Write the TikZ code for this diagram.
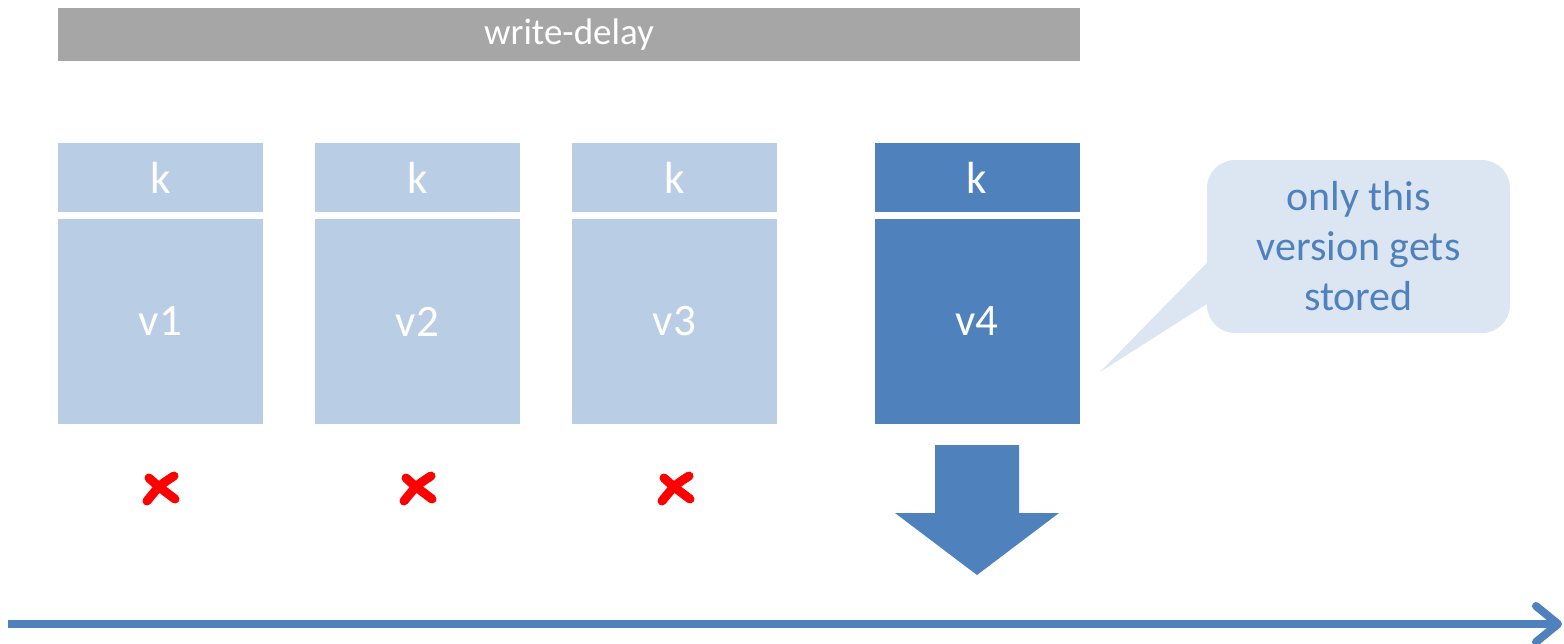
\documentclass[tikz,border=0pt]{standalone}
\usepackage{fontspec}
\setmainfont{Carlito}
\definecolor{barGray}{HTML}{A6A6A6}
\definecolor{paleBlue}{HTML}{B9CDE5}
\definecolor{deepBlue}{HTML}{4F81BD}
\definecolor{noteBlue}{HTML}{DCE6F2}
\definecolor{crossRed}{HTML}{FF0000}
\begin{document}
\begin{tikzpicture}[x=1pt,y=-1pt,
  keybox/.style={fill=#1,draw=none,inner sep=0pt,minimum width=205pt,minimum height=69pt,
    text=white,font=\fontsize{45}{47}\selectfont},
  valbox/.style={fill=#1,draw=none,inner sep=0pt,minimum width=205pt,minimum height=205pt,
    text=white,font=\fontsize{45}{47}\selectfont},
  cross/.style={crossRed,line width=9pt,line cap=round}]
\useasboundingbox (0,0) rectangle (1564,643);

% write-delay bar
\node[fill=barGray,inner sep=0pt,minimum width=1022pt,minimum height=53pt,text=white,
  font=\fontsize{37}{39}\selectfont] (delay) at (569,34.5) {write-delay};

% versions of key k
\foreach \i/\x/\c in {1/160.5/paleBlue,2/417.5/paleBlue,3/674.5/paleBlue,4/977/deepBlue}{
  \node[keybox=\c] (k\i) at (\x,177.5) {k};
  \node[valbox=\c] (v\i) at (\x,321.5) {v\i};
}

% discarded versions
\foreach \i/\x in {1/161,2/418,3/676}{
  \coordinate (x\i) at (\x,488);
  \draw[cross] ([shift={(-12,-10)}]x\i) .. controls ([shift={(-2,-1)}]x\i) .. ([shift={(14,11)}]x\i);
  \draw[cross] ([shift={(13,-12)}]x\i) .. controls ([shift={(-1,-3)}]x\i) .. ([shift={(-14,13)}]x\i);
}

% block arrow down to storage
\node[coordinate] (dtop) at (977,445) {};
\fill[deepBlue] (dtop) ++(-42,0) -- ++(84,0) -- ++(0,68) -- ++(40,0) -- (977,575)
  -- (895,513) -- (935,513) -- cycle;

% callout
\node[fill=noteBlue,rounded corners=28pt,minimum width=303pt,minimum height=173pt,
  text=deepBlue,align=center,font=\fontsize{42}{50}\selectfont] (note) at (1358.5,246.5)
  {only this\\version gets\\stored};
\coordinate (tip) at (1100,372);
\fill[noteBlue] ([yshift=-16.5pt]note.west) -- (tip) -- ([yshift=-57.5pt]note.west) -- cycle;

% timeline
\coordinate (t0) at (8,624);
\coordinate (t1) at (1558,624);
\draw[deepBlue,line width=8pt] (t0) -- ([xshift=-4pt]t1);
\draw[deepBlue,line width=8pt,line cap=round,line join=round]
  ([shift={(-22,-18)}]t1) -- (t1) -- ([shift={(-22,18)}]t1);
\end{tikzpicture}
\end{document}
